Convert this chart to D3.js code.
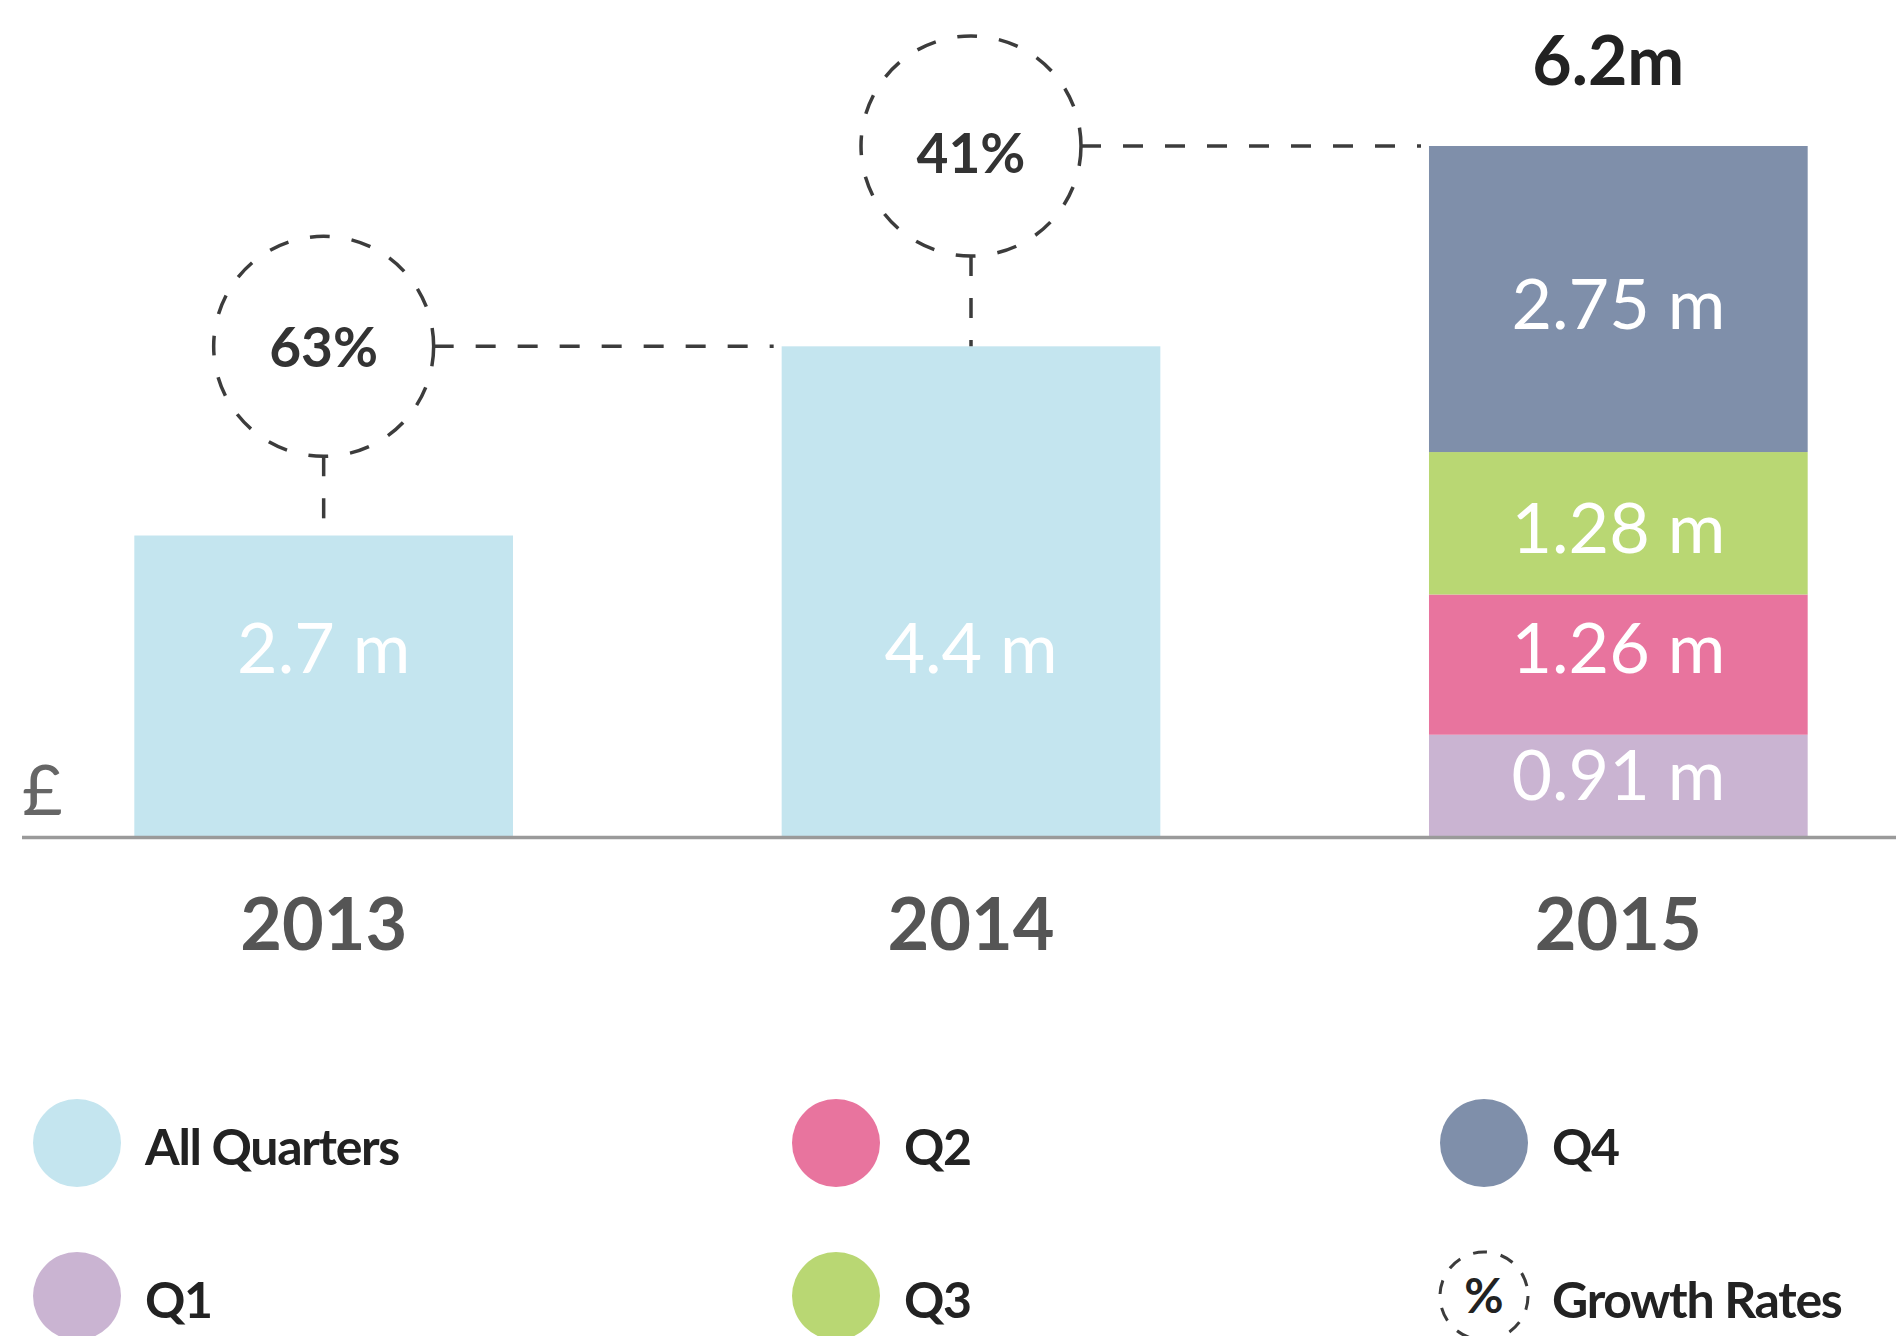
<!DOCTYPE html>
<html>
<head>
<meta charset="utf-8">
<script src="https://cdn.jsdelivr.net/npm/d3@7"></script>
<style>
  body { margin: 0; background: #fff; }
  svg { display: block; font-family: Lato, "Open Sans", sans-serif; }
</style>
</head>
<body>
<svg id="chart"></svg>
<script>
// values
const years = ['2013', '2014', '2015'];
const totals = [2.7, 4.4, 6.2];
const quarterKeys = ['Q1', 'Q2', 'Q3', 'Q4'];
const quarters2015 = [0.91, 1.26, 1.28, 2.75];
const growthRates = ['63%', '41%'];
const legendLabels = ['All Quarters', 'Q1', 'Q2', 'Q3', 'Q4', 'Growth Rates'];

const colors = {
    'All Quarters': '#c4e5ef',
    Q1: '#cab4d2',
    Q2: '#e8749e',
    Q3: '#b9d773',
    Q4: '#7f8faa'
};
// small vertical nudges for the segment labels (Q1..Q4)
const segLabelNudge = [-10, -17, 5, 5];

const width = 1896, height = 1336;

const svg = d3.select('#chart')
    .attr('width', width)
    .attr('height', height);

// scales
const xScale = d3.scaleBand()
    .domain(years)
    .range([0, 1942])
    .paddingInner(0.415)
    .paddingOuter(0.2075);

const yScale = d3.scaleLinear()
    .domain([0, 6.2])
    .range([836, 146]);

const dash = '20,22';
const dashColor = '#3c3c3c';

// full-year bars (2013, 2014)
const fullYears = years.slice(0, 2);
svg.selectAll('.bar')
    .data(fullYears)
    .join('rect')
    .attr('class', 'bar')
    .attr('x', d => xScale(d))
    .attr('width', xScale.bandwidth())
    .attr('y', (d, i) => yScale(totals[i]))
    .attr('height', (d, i) => yScale(0) - yScale(totals[i]))
    .attr('fill', colors['All Quarters']);

// stacked quarters for 2015
const row = {};
quarterKeys.forEach((k, i) => row[k] = quarters2015[i]);
const stacked = d3.stack().keys(quarterKeys)([row]);
const segLabelY = (d, i) => (yScale(d[0][0]) + yScale(d[0][1])) / 2 + 25 + segLabelNudge[i];

const segs = svg.selectAll('.seg')
    .data(stacked)
    .join('g')
    .attr('class', 'seg');

segs.append('rect')
    .attr('x', xScale('2015'))
    .attr('width', xScale.bandwidth())
    .attr('y', d => yScale(d[0][1]))
    .attr('height', d => yScale(d[0][0]) - yScale(d[0][1]))
    .attr('fill', d => colors[d.key]);

segs.append('text')
    .attr('x', xScale('2015') + xScale.bandwidth() / 2)
    .attr('y', segLabelY)
    .attr('text-anchor', 'middle')
    .attr('fill', '#fff')
    .style('font-size', '70px')
    .text(d => d[0].data[d.key] + ' m');

// labels inside the light bars, level with the Q2 label
const q2LabelY = segLabelY(stacked[1], 1);
svg.selectAll('.barLabel')
    .data(fullYears)
    .join('text')
    .attr('class', 'barLabel')
    .attr('x', d => xScale(d) + xScale.bandwidth() / 2)
    .attr('y', q2LabelY)
    .attr('text-anchor', 'middle')
    .attr('fill', '#fff')
    .style('font-size', '70px')
    .text((d, i) => totals[i] + ' m');

// 2015 total on top
svg.append('text')
    .attr('x', xScale('2015') + xScale.bandwidth() / 2 - 10)
    .attr('y', 85)
    .attr('text-anchor', 'middle')
    .attr('fill', '#222')
    .style('font-size', '68px')
    .style('font-weight', 700)
    .text(totals[2] + 'm');

// growth rate bubbles and connectors
const r = 110;
growthRates.forEach((g, i) => {
    const cx = xScale(years[i]) + xScale.bandwidth() / 2;
    const cy = yScale(totals[i + 1]);
    const grp = svg.append('g').attr('class', 'growth');

    grp.append('circle')
        .attr('cx', cx)
        .attr('cy', cy)
        .attr('r', r)
        .attr('fill', 'none')
        .attr('stroke', dashColor)
        .attr('stroke-width', 3.5)
        .attr('stroke-dasharray', dash);

    grp.append('line')
        .attr('x1', cx).attr('x2', cx)
        .attr('y1', cy + r).attr('y2', yScale(totals[i]))
        .attr('stroke', dashColor)
        .attr('stroke-width', 3.5)
        .attr('stroke-dasharray', dash);

    grp.append('line')
        .attr('x1', cx + r).attr('x2', xScale(years[i + 1]) - 8)
        .attr('y1', cy).attr('y2', cy)
        .attr('stroke', dashColor)
        .attr('stroke-width', 3.5)
        .attr('stroke-dasharray', dash);

    grp.append('text')
        .attr('x', cx)
        .attr('y', cy + (i === 1 ? 27 : 21))
        .attr('text-anchor', 'middle')
        .attr('fill', '#333')
        .style('font-size', '55px')
        .style('font-weight', 700)
        .text(g);
});

// baseline
svg.append('line')
    .attr('x1', 22).attr('x2', width)
    .attr('y1', yScale(0) + 1.5).attr('y2', yScale(0) + 1.5)
    .attr('stroke', '#9a9a9a')
    .attr('stroke-width', 3.5);

// currency mark
svg.append('text')
    .attr('x', 22)
    .attr('y', 815)
    .attr('fill', '#666')
    .style('font-size', '70px')
    .style('font-weight', 400)
    .text('£');

// x axis labels
const xAxis = d3.axisBottom(xScale).tickSize(0).tickPadding(0);
svg.append('g')
    .attr('class', 'x-axis')
    .attr('transform', 'translate(0, 898)')
    .call(xAxis)
    .call(g => g.select('.domain').remove())
    .call(g => g.selectAll('text')
        .attr('dy', '0.72em')
        .attr('fill', '#555')
        .style('font-family', 'Lato, sans-serif')
        .style('font-size', '72px')
        .style('font-weight', 700));

// legend: 3 columns x 2 rows, filled column by column
const legendX = [77, 836, 1484];
const legendY = [1143, 1296];
const legend = svg.selectAll('.legend')
    .data(legendLabels)
    .join('g')
    .attr('class', 'legend')
    .attr('transform', (d, i) => `translate(${legendX[Math.floor(i / 2)]}, ${legendY[i % 2]})`);

legend.filter(d => d !== 'Growth Rates')
    .append('circle')
    .attr('r', 44)
    .attr('fill', d => colors[d]);

const gl = legend.filter(d => d === 'Growth Rates');
gl.append('circle')
    .attr('r', 44)
    .attr('fill', 'none')
    .attr('stroke', dashColor)
    .attr('stroke-width', 3)
    .attr('stroke-dasharray', '14,14');
gl.append('text')
    .attr('text-anchor', 'middle')
    .attr('y', 17)
    .attr('fill', '#222')
    .style('font-size', '48px')
    .style('font-weight', 700)
    .text('%');

legend.append('text')
    .attr('x', 68)
    .attr('y', 22)
    .attr('fill', '#222')
    .style('font-size', '50px')
    .style('font-weight', 700)
    .style('letter-spacing', '-1.3px')
    .text(d => d);
</script>
</body>
</html>
